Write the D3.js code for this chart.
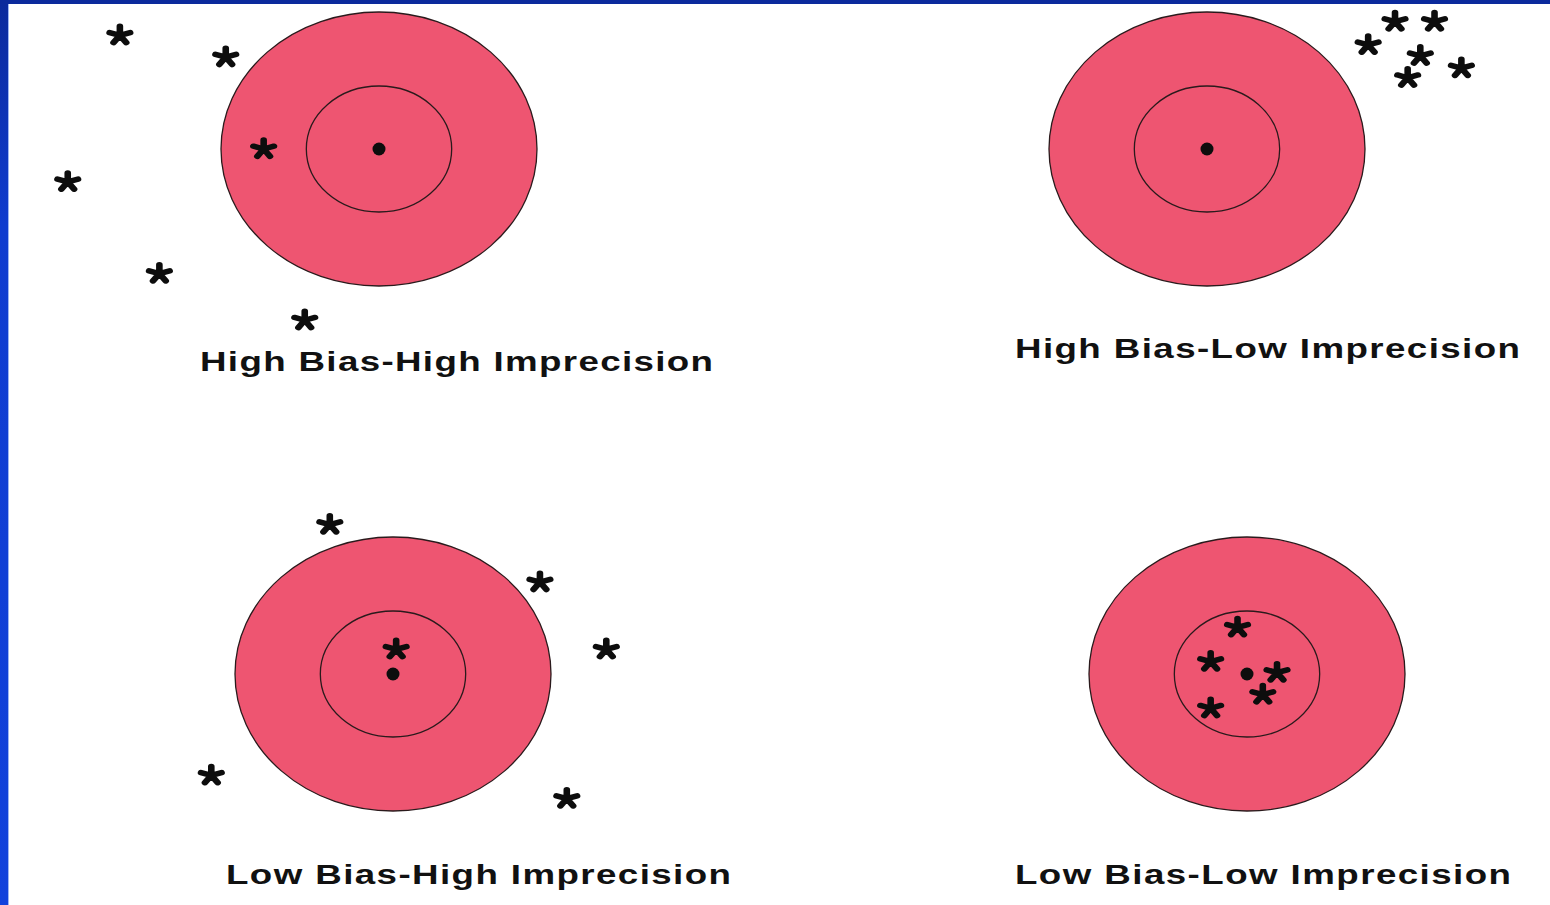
<!DOCTYPE html>
<html>
<head>
<meta charset="utf-8">
<script src="https://cdn.jsdelivr.net/npm/d3@7"></script>
<style>
  html, body { margin: 0; padding: 0; background: #ffffff; }
  svg { display: block; }
</style>
</head>
<body>
<div id="chart"></div>
<script>
// ---------- DATA ----------
const panelTitles = [
  "High Bias-High Imprecision",
  "High Bias-Low Imprecision",
  "Low Bias-High Imprecision",
  "Low Bias-Low Imprecision"
];
// Ring radii in target units (outer ring = 1)
const ringRadii = [1, 0.46];
// Shot positions relative to the bullseye, in target units (x right, y up)
const shotsHighBiasHighImprecision = [
  [-1.64, 0.83], [-0.97, 0.67], [-0.73, 0.00],
  [-1.97, -0.24], [-1.39, -0.91], [-0.47, -1.25]
];
const shotsHighBiasLowImprecision = [
  [1.19, 0.93], [1.44, 0.93], [1.02, 0.76],
  [1.35, 0.68], [1.61, 0.59], [1.27, 0.52]
];
const shotsLowBiasHighImprecision = [
  [-0.40, 1.09], [0.93, 0.67], [0.02, 0.18],
  [1.35, 0.18], [-1.15, -0.74], [1.10, -0.91]
];
const shotsLowBiasLowImprecision = [
  [-0.06, 0.34], [-0.23, 0.09], [0.19, 0.01],
  [0.10, -0.15], [-0.23, -0.25]
];
const panelShots = [
  shotsHighBiasHighImprecision,
  shotsHighBiasLowImprecision,
  shotsLowBiasHighImprecision,
  shotsLowBiasLowImprecision
];

// ---------- LAYOUT ----------
const W = 1550, H = 905;
const panelLayout = [
  { cx: 379,  cy: 149, labelLeft: 200,  labelRight: 713,  labelBase: 371 },
  { cx: 1207, cy: 149, labelLeft: 1015, labelRight: 1520, labelBase: 358 },
  { cx: 393,  cy: 674, labelLeft: 226,  labelRight: 731,  labelBase: 884 },
  { cx: 1247, cy: 674, labelLeft: 1015, labelRight: 1511, labelBase: 884 }
];
const RX = 158, RY = 137;
const targetFill = "#ee5571";

const svg = d3.select("#chart").append("svg")
  .attr("width", W).attr("height", H);

const defs = svg.append("defs");
const grad = defs.append("linearGradient").attr("id", "sideGrad")
  .attr("x1", 0).attr("y1", 0).attr("x2", 0).attr("y2", 1);
grad.append("stop").attr("offset", "0%").attr("stop-color", "#0b2a9c");
grad.append("stop").attr("offset", "25%").attr("stop-color", "#0f3ccf");
grad.append("stop").attr("offset", "100%").attr("stop-color", "#1142dc");

svg.append("rect").attr("width", W).attr("height", H).attr("fill", "#ffffff");

// Frame (slide template border)
svg.append("rect").attr("x", 0).attr("y", 0).attr("width", 8).attr("height", H)
  .attr("fill", "url(#sideGrad)");
svg.append("rect").attr("x", 8).attr("y", 4).attr("width", 1).attr("height", H - 4)
  .attr("fill", "#9db6f4");
svg.append("rect").attr("x", 0).attr("y", 0).attr("width", W).attr("height", 4)
  .attr("fill", "#0b2a9c");

// Asterisk path (5 arms)
const armLen = 9;
const asteriskPath = d3.range(5).map(i => {
  const a = (-90 + i * 72) * Math.PI / 180;
  return `M0,0L${(armLen * Math.cos(a)).toFixed(2)},${(armLen * Math.sin(a)).toFixed(2)}`;
}).join("");

panelLayout.forEach((p, i) => {
  const x = d3.scaleLinear().domain([-1, 1]).range([p.cx - RX, p.cx + RX]);
  const y = d3.scaleLinear().domain([-1, 1]).range([p.cy + RY, p.cy - RY]);
  const g = svg.append("g").attr("class", "panel");

  g.selectAll("ellipse.ring").data(ringRadii).join("ellipse")
    .attr("class", "ring")
    .attr("cx", x(0)).attr("cy", y(0))
    .attr("rx", r => x(r) - x(0))
    .attr("ry", r => y(0) - y(r))
    .attr("fill", (r, k) => k === 0 ? targetFill : "none")
    .attr("stroke", "#2a1a1c")
    .attr("stroke-width", 1.3);

  g.append("circle").attr("cx", x(0)).attr("cy", y(0)).attr("r", 6.5)
    .attr("fill", "#0d0d0d");

  g.selectAll("path.shot").data(panelShots[i]).join("path")
    .attr("class", "shot")
    .attr("d", asteriskPath)
    .attr("transform", d => `translate(${x(d[0])},${y(d[1])}) scale(1.2,1)`)
    .attr("fill", "none")
    .attr("stroke", "#0d0d0d")
    .attr("stroke-width", 5.5)
    .attr("stroke-linecap", "round");

  const sx = 1.36;
  g.append("text")
    .attr("transform", `scale(${sx},1)`)
    .attr("x", p.labelLeft / sx)
    .attr("y", p.labelBase)
    .attr("textLength", (p.labelRight - p.labelLeft) / sx)
    .attr("lengthAdjust", "spacing")
    .attr("font-family", "'Liberation Sans', Arial, sans-serif")
    .attr("font-weight", "bold")
    .attr("font-size", 27)
    .attr("fill", "#111111")
    .text(panelTitles[i]);
});
</script>
</body>
</html>
